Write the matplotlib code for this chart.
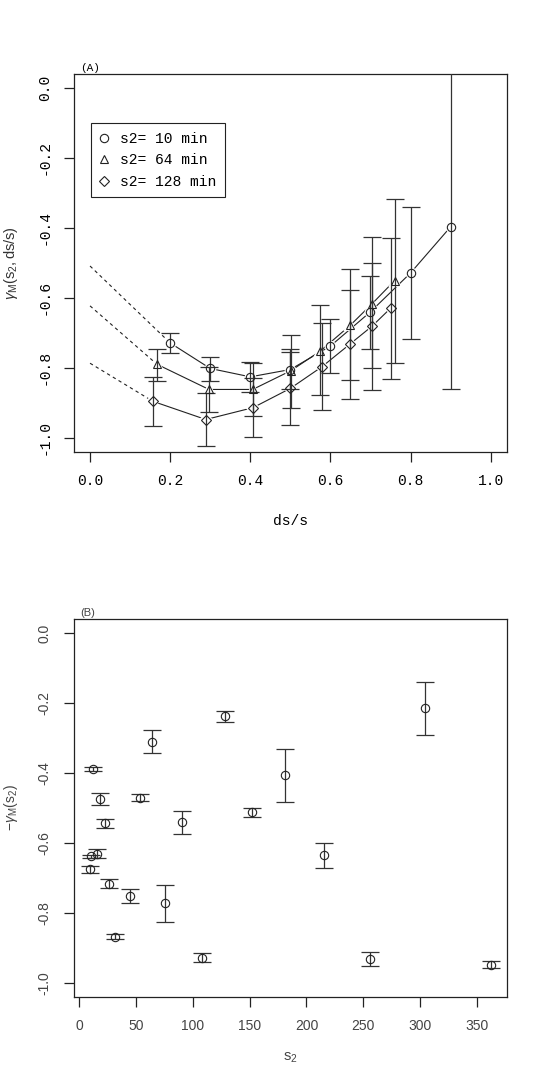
import matplotlib
matplotlib.use("Agg")
import matplotlib.pyplot as plt
import numpy as np

plt.rcParams['axes.unicode_minus'] = False
plt.rcParams['mathtext.fontset'] = 'custom'
plt.rcParams['mathtext.rm'] = 'Liberation Sans'
plt.rcParams['mathtext.it'] = 'Liberation Sans:italic'

MONO = 'Liberation Mono'
SANS = 'Liberation Sans'

# ---------------- Panel A data ----------------
labels_A = ["s2= 10 min", "s2= 64 min", "s2= 128 min"]
markers_A = ["o", "^", "D"]

x10 = [0.2, 0.3, 0.4, 0.5, 0.6, 0.7, 0.8, 0.9]
y10 = [-0.729, -0.802, -0.826, -0.805, -0.738, -0.640, -0.529, -0.397]
lo10 = [-0.757, -0.838, -0.869, -0.862, -0.814, -0.745, -0.717, -0.862]
hi10 = [-0.700, -0.768, -0.783, -0.747, -0.661, -0.537, -0.341, 0.10]
start10 = -0.509

x64 = [0.167, 0.297, 0.406, 0.502, 0.575, 0.650, 0.704, 0.760]
y64 = [-0.790, -0.862, -0.862, -0.808, -0.752, -0.678, -0.617, -0.551]
lo64 = [-0.839, -0.926, -0.937, -0.916, -0.879, -0.888, -0.802, -0.786]
hi64 = [-0.745, -0.798, -0.787, -0.706, -0.621, -0.519, -0.425, -0.317]
start64 = -0.623

x128 = [0.157, 0.289, 0.407, 0.500, 0.579, 0.648, 0.704, 0.750]
y128 = [-0.896, -0.948, -0.914, -0.859, -0.797, -0.733, -0.681, -0.630]
lo128 = [-0.966, -1.023, -0.999, -0.963, -0.921, -0.836, -0.864, -0.831]
hi128 = [-0.826, -0.871, -0.829, -0.755, -0.671, -0.579, -0.499, -0.428]
start128 = -0.787

xticks_A = [0.0, 0.2, 0.4, 0.6, 0.8, 1.0]
yticks = [0.0, -0.2, -0.4, -0.6, -0.8, -1.0]

# ---------------- Panel B data ----------------
s2 = [12.6, 18.8, 22.9, 10.6, 16.1, 9.7, 26.7, 44.9, 32.0, 54.0, 64.0,
      76.0, 91.0, 108.0, 128.0, 152.0, 181.0, 215.0, 304.0, 256.0, 362.0]
gB = [-0.388, -0.474, -0.544, -0.638, -0.631, -0.675, -0.717, -0.751, -0.869,
      -0.471, -0.310, -0.772, -0.540, -0.928, -0.237, -0.512, -0.406, -0.635,
      -0.214, -0.932, -0.949]
loB = [-0.393, -0.492, -0.557, -0.642, -0.643, -0.685, -0.730, -0.771, -0.876,
       -0.480, -0.344, -0.825, -0.573, -0.941, -0.253, -0.525, -0.483, -0.671,
       -0.290, -0.951, -0.959]
hiB = [-0.383, -0.456, -0.532, -0.634, -0.618, -0.666, -0.704, -0.731, -0.860,
       -0.461, -0.277, -0.721, -0.509, -0.914, -0.221, -0.499, -0.330, -0.599,
       -0.138, -0.912, -0.939]
xticks_B = [0, 50, 100, 150, 200, 250, 300, 350]

W, H = 545, 1090
fig = plt.figure(figsize=(W / 100, H / 100), dpi=100)

def frac(l, t, r, b):
    return [l / W, 1 - b / H, (r - l) / W, (b - t) / H]

axA = fig.add_axes(frac(74, 74, 506.7, 451.7))
axB = fig.add_axes(frac(74, 619.3, 506.7, 996.7))

lc = '#222222'
series = [(x10, y10, lo10, hi10, start10),
          (x64, y64, lo64, hi64, start64),
          (x128, y128, lo128, hi128, start128)]
for (xs, ys, lo, hi, st), mk, lab in zip(series, markers_A, labels_A):
    xs = np.array(xs); ys = np.array(ys)
    ms = 6 if mk != 'D' else 5.5
    yerr = np.vstack([ys - np.array(lo), np.array(hi) - ys])
    axA.plot([0.0, xs[0]], [st, ys[0]], ls=(0, (3, 3)), color=lc, lw=0.8, zorder=1)
    axA.plot(xs, ys, '-', color=lc, lw=0.8, zorder=1)
    # white mask so the connecting line stops at the symbol (R type="b")
    axA.plot(xs, ys, ls='none', marker=mk, mfc='white', mec='white', mew=1.5,
             ms=ms + 1, zorder=2)
    axA.errorbar(xs, ys, yerr=yerr, fmt='none', ecolor='#333333',
                 elinewidth=0.9, capsize=6.8, capthick=0.9, zorder=3)
    axA.plot(xs, ys, ls='none', marker=mk, mfc='none', mec=lc, mew=0.8,
             ms=ms, label=lab, zorder=4)

axA.set_xlim(-0.04, 1.04)
axA.set_ylim(-1.04, 0.04)
axA.set_xticks(xticks_A)
axA.set_xticklabels([f"{v:.1f}" for v in xticks_A], fontfamily=MONO, fontsize=10.5)
axA.set_yticks(yticks)
axA.set_yticklabels([f"{v:.1f}" for v in yticks], fontfamily=MONO, fontsize=10.5,
                    rotation=90, va='center')
axA.set_xlabel("ds/s", fontfamily=MONO, fontsize=10.5)
axA.xaxis.set_label_coords(0.5, -0.165)
axA.set_ylabel(r'$\gamma_{\mathrm{M}}(\mathrm{s}_2,\mathrm{ds/s})$', fontsize=10.5, color='#333333')
axA.yaxis.set_label_coords(-0.125, 0.5)
axA.text(0.015, 1.003, "(A)", transform=axA.transAxes, fontfamily=MONO,
         fontsize=8, va='bottom', ha='left')
leg = axA.legend(loc='upper left', bbox_to_anchor=(0.0386, 0.8695), frameon=True,
                 fancybox=False, edgecolor='#222222', framealpha=1,
                 prop={'family': MONO, 'size': 10.5}, handlelength=0.6,
                 handletextpad=0.8, borderpad=0.6, labelspacing=0.5,
                 borderaxespad=0)
leg.get_frame().set_linewidth(0.8)

# Panel B
sx = np.array(s2); sy = np.array(gB)
yerrB = np.vstack([sy - np.array(loB), np.array(hiB) - sy])
axB.errorbar(sx, sy, yerr=yerrB, fmt='none', ecolor='#333333', elinewidth=0.9,
             capsize=6.5, capthick=0.9, zorder=2)
axB.plot(sx, sy, ls='none', marker='o', mfc='none', mec=lc, mew=0.8, ms=6, zorder=3)
axB.set_xlim(9.7 - 0.04 * (362 - 9.7), 362 + 0.04 * (362 - 9.7))
axB.set_ylim(-1.04, 0.04)
axB.set_xticks(xticks_B)
axB.set_xticklabels([str(v) for v in xticks_B], fontfamily=SANS, fontsize=10,
                    color='#444444')
axB.set_yticks(yticks)
axB.set_yticklabels([f"{v:.1f}" for v in yticks], fontfamily=SANS, fontsize=10,
                    rotation=90, va='center', color='#444444')
axB.set_xlabel(r'$\mathrm{s}_2$', fontsize=10.5, color='#444444')
axB.xaxis.set_label_coords(0.5, -0.14)
axB.set_ylabel(r'$-\gamma_{\mathrm{M}}(\mathrm{s}_2)$', fontsize=10, color='#444444')
axB.yaxis.set_label_coords(-0.125, 0.5)
axB.text(0.015, 1.003, "(B)", transform=axB.transAxes, fontfamily=SANS,
         fontsize=8, va='bottom', ha='left', color='#444444')

for ax in (axA, axB):
    for sp in ax.spines.values():
        sp.set_linewidth(0.9)
        sp.set_color('#222222')
    ax.tick_params(direction='out', length=7, width=0.9, color='#222222', pad=9)

fig.savefig("out.png", dpi=100, facecolor='white')
